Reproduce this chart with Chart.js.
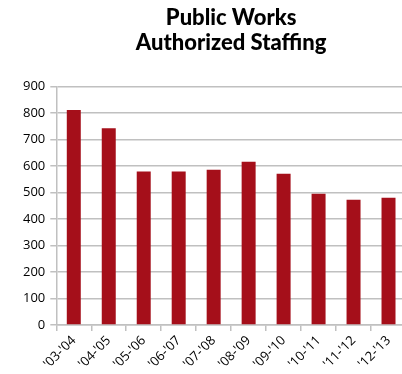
<!DOCTYPE html>
<html>
<head>
<meta charset="utf-8">
<script src="https://cdn.jsdelivr.net/npm/chart.js@4"></script>
<style>
  html, body { margin:0; padding:0; background:#fff; overflow:hidden; }
  #wrap { width:410px; height:374px; }
</style>
</head>
<body>
<div id="wrap"><canvas id="staffChart" width="410" height="374"></canvas></div>
<script>
// fiscal years
let years = ["'03-'04", "'04-'05", "'05-'06", "'06-'07", "'07-'08", "'08-'09", "'09-'10", "'10-'11", "'11-'12", "'12-'13"];
// authorized positions
let staffing = [812, 743, 579, 579, 586, 616, 571, 495, 473, 480];
let titleLines = ["Public Works", "Authorized Staffing"];
let yMax = 900;
let yStep = 100;

let gridGray = '#c0c0c0';

let staffChart = new Chart(document.getElementById('staffChart'), {
    type:'bar',
    data:{
        labels:years,
        datasets:[{
            label:"Authorized Staffing",
            data:staffing,
            backgroundColor:'#a50f1a',
            categoryPercentage:1,
            barPercentage:0.4
        }]
    },
    options:{
        responsive:false,
        animation:false,
        layout:{ padding:{ left:18, right:4, top:5, bottom:0 } },
        plugins:{
            legend:{ display:false },
            tooltip:{ enabled:false },
            title:{
                display:true,
                text:titleLines,
                fullSize:false,
                color:'#000',
                font:{ family:'Lato', size:22, weight:900, lineHeight:1.15 },
                padding:{ top:0, bottom:31 }
            }
        },
        scales:{
            x:{
                grid:{ display:true, drawOnChartArea:false, drawTicks:true, tickLength:6, color:gridGray, lineWidth:1.5 },
                border:{ color:gridGray, width:1.5 },
                ticks:{ color:'#000', minRotation:45, maxRotation:45, padding:2, font:{ family:'Open Sans', size:13 } }
            },
            y:{
                min:0,
                max:yMax,
                grid:{ color:gridGray, lineWidth:1.5, tickLength:6 },
                border:{ color:gridGray, width:1.5 },
                ticks:{ stepSize:yStep, color:'#000', padding:5, font:{ family:'Open Sans', size:13 } }
            }
        }
    }
});
</script>
</body>
</html>
